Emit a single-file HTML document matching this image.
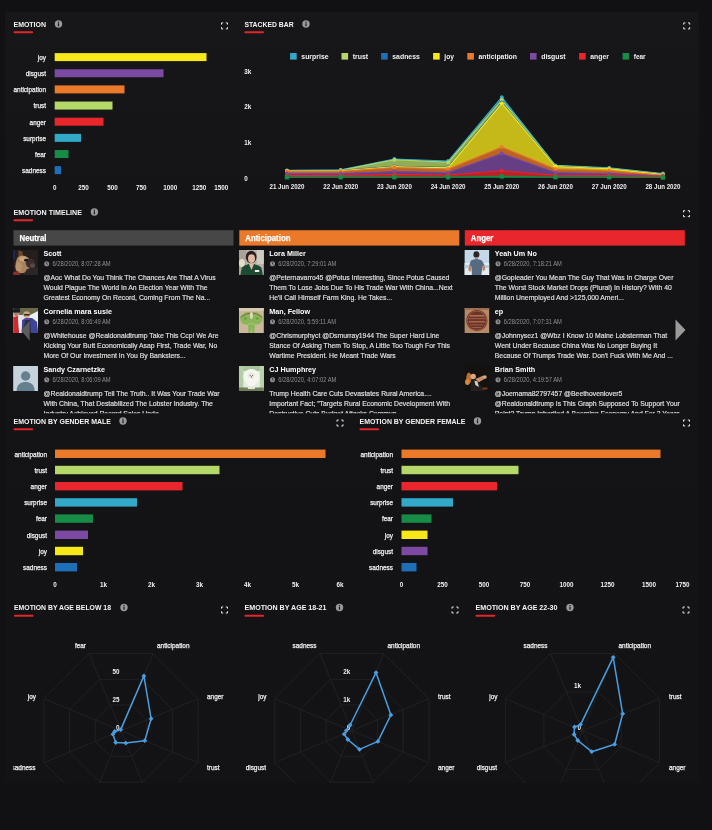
<!DOCTYPE html>
<html><head><meta charset="utf-8"><title>Emotion Dashboard</title>
<style>
html,body{margin:0;padding:0;background:#111113;}
body{width:712px;height:830px;overflow:hidden;font-family:"Liberation Sans",sans-serif;}
svg{display:block;filter:blur(0.3px);font-family:"Liberation Sans",sans-serif;}
</style></head><body>
<svg width="712" height="830" viewBox="0 0 712 830">
<rect x="0" y="0" width="712" height="830" fill="#111113"/>
<defs><linearGradient id="pg" x1="0" y1="0" x2="0" y2="1"><stop offset="0" stop-color="#171719"/><stop offset="0.25" stop-color="#141416"/><stop offset="1" stop-color="#131315"/></linearGradient></defs>
<rect x="5" y="12" width="694" height="771" fill="url(#pg)"/>

<text x="13.50" y="26.83" font-size="7.9" font-weight="bold" fill="#f4f4f4" textLength="32.50" lengthAdjust="spacingAndGlyphs">EMOTION</text>
<rect x="13.5" y="31.2" width="19.5" height="2" rx="0.8" fill="#e3262b"/>
<circle cx="58.5" cy="24" r="3.7" fill="#9a9a9a"/>
<rect x="57.9" y="23.3" width="1.2" height="2.9" fill="#141416"/>
<rect x="57.9" y="21.6" width="1.2" height="1.1" fill="#141416"/>
<path d="M221.50 24.60V22.90H223.20M227.50 24.60V22.90H225.80M227.50 27.20V28.90H225.80M221.50 27.20V28.90H223.20" fill="none" stroke="#f0f0f0" stroke-width="0.95"/>
<rect x="54.7" y="53.10" width="151.80" height="8" fill="#f7e81a"/>
<text x="37.79" y="59.91" font-size="7.3" fill="#f2f2f2" textLength="8.21" lengthAdjust="spacingAndGlyphs" stroke="#f2f2f2" stroke-width="0.25">joy</text>
<rect x="54.7" y="69.25" width="108.80" height="8" fill="#7d4aa3"/>
<text x="25.65" y="76.06" font-size="7.3" fill="#f2f2f2" textLength="20.35" lengthAdjust="spacingAndGlyphs" stroke="#f2f2f2" stroke-width="0.25">disgust</text>
<rect x="54.7" y="85.40" width="69.80" height="8" fill="#ea7a29"/>
<text x="13.50" y="92.21" font-size="7.3" fill="#f2f2f2" textLength="32.50" lengthAdjust="spacingAndGlyphs" stroke="#f2f2f2" stroke-width="0.25">anticipation</text>
<rect x="54.7" y="101.55" width="57.80" height="8" fill="#b5d968"/>
<text x="33.51" y="108.36" font-size="7.3" fill="#f2f2f2" textLength="12.49" lengthAdjust="spacingAndGlyphs" stroke="#f2f2f2" stroke-width="0.25">trust</text>
<rect x="54.7" y="117.70" width="48.80" height="8" fill="#e9262b"/>
<text x="29.57" y="124.51" font-size="7.3" fill="#f2f2f2" textLength="16.43" lengthAdjust="spacingAndGlyphs" stroke="#f2f2f2" stroke-width="0.25">anger</text>
<rect x="54.7" y="133.85" width="26.30" height="8" fill="#32a9c9"/>
<text x="23.15" y="140.66" font-size="7.3" fill="#f2f2f2" textLength="22.85" lengthAdjust="spacingAndGlyphs" stroke="#f2f2f2" stroke-width="0.25">surprise</text>
<rect x="54.7" y="150.00" width="13.80" height="8" fill="#178c46"/>
<text x="34.93" y="156.81" font-size="7.3" fill="#f2f2f2" textLength="11.07" lengthAdjust="spacingAndGlyphs" stroke="#f2f2f2" stroke-width="0.25">fear</text>
<rect x="54.7" y="166.15" width="6.30" height="8" fill="#1e6fba"/>
<text x="22.07" y="172.96" font-size="7.3" fill="#f2f2f2" textLength="23.93" lengthAdjust="spacingAndGlyphs" stroke="#f2f2f2" stroke-width="0.25">sadness</text>
<text x="52.95" y="189.61" font-size="7.0" font-weight="bold" fill="#f0f0f0" textLength="3.50" lengthAdjust="spacingAndGlyphs">0</text>
<text x="78.24" y="189.61" font-size="7.0" font-weight="bold" fill="#f0f0f0" textLength="10.51" lengthAdjust="spacingAndGlyphs">250</text>
<text x="107.14" y="189.61" font-size="7.0" font-weight="bold" fill="#f0f0f0" textLength="10.51" lengthAdjust="spacingAndGlyphs">500</text>
<text x="136.04" y="189.61" font-size="7.0" font-weight="bold" fill="#f0f0f0" textLength="10.51" lengthAdjust="spacingAndGlyphs">750</text>
<text x="163.19" y="189.61" font-size="7.0" font-weight="bold" fill="#f0f0f0" textLength="14.01" lengthAdjust="spacingAndGlyphs">1000</text>
<text x="192.19" y="189.61" font-size="7.0" font-weight="bold" fill="#f0f0f0" textLength="14.01" lengthAdjust="spacingAndGlyphs">1250</text>
<text x="214.19" y="189.61" font-size="7.0" font-weight="bold" fill="#f0f0f0" textLength="14.01" lengthAdjust="spacingAndGlyphs">1500</text>
<text x="244.40" y="26.83" font-size="7.9" font-weight="bold" fill="#f4f4f4" textLength="49.20" lengthAdjust="spacingAndGlyphs">STACKED BAR</text>
<rect x="244.4" y="31.2" width="19.5" height="2" rx="0.8" fill="#e3262b"/>
<circle cx="306" cy="24" r="3.7" fill="#9a9a9a"/>
<rect x="305.4" y="23.3" width="1.2" height="2.9" fill="#141416"/>
<rect x="305.4" y="21.6" width="1.2" height="1.1" fill="#141416"/>
<path d="M683.70 24.60V22.90H685.40M689.70 24.60V22.90H688.00M689.70 27.20V28.90H688.00M683.70 27.20V28.90H685.40" fill="none" stroke="#f0f0f0" stroke-width="0.95"/>
<rect x="290.1" y="53.0" width="6.6" height="6.6" fill="#32a9c9"/>
<text x="301.30" y="59.29" font-size="7.8" font-weight="bold" fill="#f2f2f2" textLength="27.30" lengthAdjust="spacingAndGlyphs">surprise</text>
<rect x="341.5" y="53.0" width="6.6" height="6.6" fill="#b5d968"/>
<text x="352.70" y="59.29" font-size="7.8" font-weight="bold" fill="#f2f2f2" textLength="15.40" lengthAdjust="spacingAndGlyphs">trust</text>
<rect x="381.1" y="53.0" width="6.6" height="6.6" fill="#1e6fba"/>
<text x="392.30" y="59.29" font-size="7.8" font-weight="bold" fill="#f2f2f2" textLength="27.50" lengthAdjust="spacingAndGlyphs">sadness</text>
<rect x="433.1" y="53.0" width="6.6" height="6.6" fill="#f7e81a"/>
<text x="444.30" y="59.29" font-size="7.8" font-weight="bold" fill="#f2f2f2" textLength="9.60" lengthAdjust="spacingAndGlyphs">joy</text>
<rect x="467.3" y="53.0" width="6.6" height="6.6" fill="#ea7a29"/>
<text x="478.50" y="59.29" font-size="7.8" font-weight="bold" fill="#f2f2f2" textLength="38.50" lengthAdjust="spacingAndGlyphs">anticipation</text>
<rect x="530" y="53.0" width="6.6" height="6.6" fill="#7d4aa3"/>
<text x="541.20" y="59.29" font-size="7.8" font-weight="bold" fill="#f2f2f2" textLength="24.40" lengthAdjust="spacingAndGlyphs">disgust</text>
<rect x="579.1" y="53.0" width="6.6" height="6.6" fill="#e9262b"/>
<text x="590.30" y="59.29" font-size="7.8" font-weight="bold" fill="#f2f2f2" textLength="18.60" lengthAdjust="spacingAndGlyphs">anger</text>
<rect x="622.6" y="53.0" width="6.6" height="6.6" fill="#178c46"/>
<text x="633.80" y="59.29" font-size="7.8" font-weight="bold" fill="#f2f2f2" textLength="11.80" lengthAdjust="spacingAndGlyphs">fear</text>
<text x="244.30" y="73.51" font-size="7.0" font-weight="bold" fill="#f0f0f0" textLength="7.01" lengthAdjust="spacingAndGlyphs">3k</text>
<text x="244.30" y="109.21" font-size="7.0" font-weight="bold" fill="#f0f0f0" textLength="7.01" lengthAdjust="spacingAndGlyphs">2k</text>
<text x="244.30" y="145.01" font-size="7.0" font-weight="bold" fill="#f0f0f0" textLength="7.01" lengthAdjust="spacingAndGlyphs">1k</text>
<text x="244.30" y="180.81" font-size="7.0" font-weight="bold" fill="#f0f0f0" textLength="3.50" lengthAdjust="spacingAndGlyphs">0</text>
<text x="269.54" y="189.31" font-size="7.0" font-weight="bold" fill="#f0f0f0" textLength="34.93" lengthAdjust="spacingAndGlyphs">21 Jun 2020</text>
<text x="323.24" y="189.31" font-size="7.0" font-weight="bold" fill="#f0f0f0" textLength="34.93" lengthAdjust="spacingAndGlyphs">22 Jun 2020</text>
<text x="376.94" y="189.31" font-size="7.0" font-weight="bold" fill="#f0f0f0" textLength="34.93" lengthAdjust="spacingAndGlyphs">23 Jun 2020</text>
<text x="430.64" y="189.31" font-size="7.0" font-weight="bold" fill="#f0f0f0" textLength="34.93" lengthAdjust="spacingAndGlyphs">24 Jun 2020</text>
<text x="484.34" y="189.31" font-size="7.0" font-weight="bold" fill="#f0f0f0" textLength="34.93" lengthAdjust="spacingAndGlyphs">25 Jun 2020</text>
<text x="538.04" y="189.31" font-size="7.0" font-weight="bold" fill="#f0f0f0" textLength="34.93" lengthAdjust="spacingAndGlyphs">26 Jun 2020</text>
<text x="591.74" y="189.31" font-size="7.0" font-weight="bold" fill="#f0f0f0" textLength="34.93" lengthAdjust="spacingAndGlyphs">27 Jun 2020</text>
<text x="645.44" y="189.31" font-size="7.0" font-weight="bold" fill="#f0f0f0" textLength="34.93" lengthAdjust="spacingAndGlyphs">28 Jun 2020</text>
<path d="M287.0 170.3L340.7 169.8L394.4 159.0L448.1 161.0L501.8 97.2L555.5 165.3L609.2 167.8L662.9 173.5L662.9 174.0L609.2 168.2L555.5 165.8L501.8 100.0L448.1 162.3L394.4 159.8L340.7 170.2L287.0 170.6Z" fill="#32a9c9" fill-opacity="0.78"/>
<path d="M287.0 170.3L340.7 169.8L394.4 159.0L448.1 161.0L501.8 97.2L555.5 165.3L609.2 167.8L662.9 173.5" fill="none" stroke="#32a9c9" stroke-width="1.1" stroke-linejoin="round"/>
<circle cx="287.0" cy="170.3" r="1.9" fill="#32a9c9"/>
<circle cx="340.7" cy="169.8" r="1.9" fill="#32a9c9"/>
<circle cx="394.4" cy="159.0" r="1.9" fill="#32a9c9"/>
<circle cx="448.1" cy="161.0" r="1.9" fill="#32a9c9"/>
<circle cx="501.8" cy="97.2" r="1.9" fill="#32a9c9"/>
<circle cx="555.5" cy="165.3" r="1.9" fill="#32a9c9"/>
<circle cx="609.2" cy="167.8" r="1.9" fill="#32a9c9"/>
<circle cx="662.9" cy="173.5" r="1.9" fill="#32a9c9"/>
<path d="M287.0 170.6L340.7 170.2L394.4 159.8L448.1 162.3L501.8 100.0L555.5 165.8L609.2 168.2L662.9 174.0L662.9 174.4L609.2 168.5L555.5 166.2L501.8 102.3L448.1 167.3L394.4 166.3L340.7 170.6L287.0 170.8Z" fill="#b5d968" fill-opacity="0.78"/>
<path d="M287.0 170.6L340.7 170.2L394.4 159.8L448.1 162.3L501.8 100.0L555.5 165.8L609.2 168.2L662.9 174.0" fill="none" stroke="#b5d968" stroke-width="1.1" stroke-linejoin="round"/>
<circle cx="287.0" cy="170.6" r="1.9" fill="#b5d968"/>
<circle cx="340.7" cy="170.2" r="1.9" fill="#b5d968"/>
<circle cx="394.4" cy="159.8" r="1.9" fill="#b5d968"/>
<circle cx="448.1" cy="162.3" r="1.9" fill="#b5d968"/>
<circle cx="501.8" cy="100.0" r="1.9" fill="#b5d968"/>
<circle cx="555.5" cy="165.8" r="1.9" fill="#b5d968"/>
<circle cx="609.2" cy="168.2" r="1.9" fill="#b5d968"/>
<circle cx="662.9" cy="174.0" r="1.9" fill="#b5d968"/>
<path d="M287.0 170.8L340.7 170.6L394.4 166.3L448.1 167.3L501.8 102.3L555.5 166.2L609.2 168.5L662.9 174.4L662.9 174.6L609.2 168.8L555.5 166.5L501.8 103.3L448.1 167.8L394.4 166.8L340.7 170.8L287.0 171.0Z" fill="#1e6fba" fill-opacity="0.78"/>
<path d="M287.0 170.8L340.7 170.6L394.4 166.3L448.1 167.3L501.8 102.3L555.5 166.2L609.2 168.5L662.9 174.4" fill="none" stroke="#1e6fba" stroke-width="1.1" stroke-linejoin="round"/>
<circle cx="287.0" cy="170.8" r="1.9" fill="#1e6fba"/>
<circle cx="340.7" cy="170.6" r="1.9" fill="#1e6fba"/>
<circle cx="394.4" cy="166.3" r="1.9" fill="#1e6fba"/>
<circle cx="448.1" cy="167.3" r="1.9" fill="#1e6fba"/>
<circle cx="501.8" cy="102.3" r="1.9" fill="#1e6fba"/>
<circle cx="555.5" cy="166.2" r="1.9" fill="#1e6fba"/>
<circle cx="609.2" cy="168.5" r="1.9" fill="#1e6fba"/>
<circle cx="662.9" cy="174.4" r="1.9" fill="#1e6fba"/>
<path d="M287.0 171.0L340.7 170.8L394.4 166.8L448.1 167.8L501.8 103.3L555.5 166.5L609.2 168.8L662.9 174.6L662.9 175.2L609.2 170.5L555.5 169.0L501.8 147.0L448.1 169.0L394.4 167.5L340.7 171.3L287.0 171.5Z" fill="#f7e81a" fill-opacity="0.78"/>
<path d="M287.0 171.0L340.7 170.8L394.4 166.8L448.1 167.8L501.8 103.3L555.5 166.5L609.2 168.8L662.9 174.6" fill="none" stroke="#f7e81a" stroke-width="1.1" stroke-linejoin="round"/>
<circle cx="287.0" cy="171.0" r="1.9" fill="#f7e81a"/>
<circle cx="340.7" cy="170.8" r="1.9" fill="#f7e81a"/>
<circle cx="394.4" cy="166.8" r="1.9" fill="#f7e81a"/>
<circle cx="448.1" cy="167.8" r="1.9" fill="#f7e81a"/>
<circle cx="501.8" cy="103.3" r="1.9" fill="#f7e81a"/>
<circle cx="555.5" cy="166.5" r="1.9" fill="#f7e81a"/>
<circle cx="609.2" cy="168.8" r="1.9" fill="#f7e81a"/>
<circle cx="662.9" cy="174.6" r="1.9" fill="#f7e81a"/>
<path d="M287.0 171.5L340.7 171.3L394.4 167.5L448.1 169.0L501.8 147.0L555.5 169.0L609.2 170.5L662.9 175.2L662.9 176.0L609.2 173.5L555.5 172.5L501.8 153.5L448.1 172.5L394.4 171.5L340.7 173.5L287.0 173.5Z" fill="#ea7a29" fill-opacity="0.78"/>
<path d="M287.0 171.5L340.7 171.3L394.4 167.5L448.1 169.0L501.8 147.0L555.5 169.0L609.2 170.5L662.9 175.2" fill="none" stroke="#ea7a29" stroke-width="1.1" stroke-linejoin="round"/>
<circle cx="287.0" cy="171.5" r="1.9" fill="#ea7a29"/>
<circle cx="340.7" cy="171.3" r="1.9" fill="#ea7a29"/>
<circle cx="394.4" cy="167.5" r="1.9" fill="#ea7a29"/>
<circle cx="448.1" cy="169.0" r="1.9" fill="#ea7a29"/>
<circle cx="501.8" cy="147.0" r="1.9" fill="#ea7a29"/>
<circle cx="555.5" cy="169.0" r="1.9" fill="#ea7a29"/>
<circle cx="609.2" cy="170.5" r="1.9" fill="#ea7a29"/>
<circle cx="662.9" cy="175.2" r="1.9" fill="#ea7a29"/>
<path d="M287.0 173.5L340.7 173.5L394.4 171.5L448.1 172.5L501.8 153.5L555.5 172.5L609.2 173.5L662.9 176.0L662.9 176.6L609.2 175.5L555.5 175.3L501.8 170.8L448.1 175.0L394.4 174.5L340.7 175.5L287.0 175.5Z" fill="#7d4aa3" fill-opacity="0.78"/>
<path d="M287.0 173.5L340.7 173.5L394.4 171.5L448.1 172.5L501.8 153.5L555.5 172.5L609.2 173.5L662.9 176.0" fill="none" stroke="#7d4aa3" stroke-width="1.1" stroke-linejoin="round"/>
<circle cx="287.0" cy="173.5" r="1.9" fill="#7d4aa3"/>
<circle cx="340.7" cy="173.5" r="1.9" fill="#7d4aa3"/>
<circle cx="394.4" cy="171.5" r="1.9" fill="#7d4aa3"/>
<circle cx="448.1" cy="172.5" r="1.9" fill="#7d4aa3"/>
<circle cx="501.8" cy="153.5" r="1.9" fill="#7d4aa3"/>
<circle cx="555.5" cy="172.5" r="1.9" fill="#7d4aa3"/>
<circle cx="609.2" cy="173.5" r="1.9" fill="#7d4aa3"/>
<circle cx="662.9" cy="176.0" r="1.9" fill="#7d4aa3"/>
<path d="M287.0 175.5L340.7 175.5L394.4 174.5L448.1 175.0L501.8 170.8L555.5 175.3L609.2 175.5L662.9 176.6L662.9 177.3L609.2 177.0L555.5 177.0L501.8 176.2L448.1 177.0L394.4 177.0L340.7 177.0L287.0 177.0Z" fill="#e9262b" fill-opacity="0.78"/>
<path d="M287.0 175.5L340.7 175.5L394.4 174.5L448.1 175.0L501.8 170.8L555.5 175.3L609.2 175.5L662.9 176.6" fill="none" stroke="#e9262b" stroke-width="1.1" stroke-linejoin="round"/>
<circle cx="287.0" cy="175.5" r="1.9" fill="#e9262b"/>
<circle cx="340.7" cy="175.5" r="1.9" fill="#e9262b"/>
<circle cx="394.4" cy="174.5" r="1.9" fill="#e9262b"/>
<circle cx="448.1" cy="175.0" r="1.9" fill="#e9262b"/>
<circle cx="501.8" cy="170.8" r="1.9" fill="#e9262b"/>
<circle cx="555.5" cy="175.3" r="1.9" fill="#e9262b"/>
<circle cx="609.2" cy="175.5" r="1.9" fill="#e9262b"/>
<circle cx="662.9" cy="176.6" r="1.9" fill="#e9262b"/>
<path d="M287.0 177.0L340.7 177.0L394.4 177.0L448.1 177.0L501.8 176.2L555.5 177.0L609.2 177.0L662.9 177.3L662.9 178.0L609.2 178.0L555.5 178.0L501.8 178.0L448.1 178.0L394.4 178.0L340.7 178.0L287.0 178.0Z" fill="#178c46" fill-opacity="0.78"/>
<path d="M287.0 177.0L340.7 177.0L394.4 177.0L448.1 177.0L501.8 176.2L555.5 177.0L609.2 177.0L662.9 177.3" fill="none" stroke="#178c46" stroke-width="1.1" stroke-linejoin="round"/>
<rect x="284.8" y="175.0" width="4.4" height="4.4" fill="#178c46"/>
<rect x="338.5" y="175.0" width="4.4" height="4.4" fill="#178c46"/>
<rect x="392.2" y="175.0" width="4.4" height="4.4" fill="#178c46"/>
<rect x="445.9" y="175.0" width="4.4" height="4.4" fill="#178c46"/>
<rect x="499.6" y="174.2" width="4.4" height="4.4" fill="#178c46"/>
<rect x="553.3" y="175.0" width="4.4" height="4.4" fill="#178c46"/>
<rect x="607.0" y="175.0" width="4.4" height="4.4" fill="#178c46"/>
<rect x="660.7" y="175.3" width="4.4" height="4.4" fill="#178c46"/>
<text x="13.50" y="214.83" font-size="7.9" font-weight="bold" fill="#f4f4f4" textLength="68.40" lengthAdjust="spacingAndGlyphs">EMOTION TIMELINE</text>
<rect x="13.5" y="219.2" width="19.5" height="2" rx="0.8" fill="#e3262b"/>
<circle cx="94.4" cy="212" r="3.7" fill="#9a9a9a"/>
<rect x="93.80000000000001" y="211.3" width="1.2" height="2.9" fill="#141416"/>
<rect x="93.80000000000001" y="209.6" width="1.2" height="1.1" fill="#141416"/>
<path d="M683.50 212.40V210.70H685.20M689.50 212.40V210.70H687.80M689.50 215.00V216.70H687.80M683.50 215.00V216.70H685.20" fill="none" stroke="#f0f0f0" stroke-width="0.95"/>
<clipPath id="tlclip"><rect x="5" y="225" width="694" height="188.3"/></clipPath>
<g clip-path="url(#tlclip)">
<rect x="13.5" y="230.2" width="220" height="15.4" fill="#474747"/>
<text x="19.50" y="241.01" font-size="8.4" font-weight="bold" fill="#fff" textLength="26.91" lengthAdjust="spacingAndGlyphs" stroke="#fff" stroke-width="0.25">Neutral</text>
<g transform="translate(13.1,250.0)"><clipPath id="avc00"><rect width="25" height="25"/></clipPath><g clip-path="url(#avc00)"><rect width="25" height="25" fill="#241e1d"/>
<rect x="0" y="0" width="1.8" height="9" fill="#1d2a55"/>
<path d="M5.5 0.5L9.5 1.5L10 8L5 9Z" fill="#6b4632"/>
<path d="M4 8Q8 4 13 6.5Q17 8 17.5 12L16 20Q12 24 6 23Q2 20 2.5 13Z" fill="#a8835e"/>
<ellipse cx="10" cy="8.8" rx="4" ry="2.6" fill="#c9a67e"/>
<ellipse cx="5.5" cy="17" rx="3.2" ry="5" fill="#b8946e"/>
<ellipse cx="17.3" cy="13.2" rx="4.6" ry="4.6" fill="#3a2d2b"/>
<ellipse cx="19.5" cy="15.6" rx="2.6" ry="2.4" fill="#54484a"/>
<ellipse cx="13" cy="10.2" rx="2" ry="1.4" fill="#1b1514"/>
<path d="M0 22L5 21L7 25L0 25Z" fill="#8a2f2c"/>
<path d="M14 19L25 17L25 25L10 25Z" fill="#2c2626"/></g></g>
<text x="43.50" y="255.56" font-size="8.0" font-weight="bold" fill="#fff" textLength="18.00" lengthAdjust="spacingAndGlyphs">Scott</text>
<circle cx="46.7" cy="263.7" r="2.55" fill="#8a8a8a"/>
<path d="M46.7 262.2V263.8L47.7 264.6" stroke="#141416" stroke-width="0.7" fill="none"/>
<text x="52.40" y="266.23" font-size="6.5" fill="#909090" textLength="58.21" lengthAdjust="spacingAndGlyphs">6/28/2020, 8:07:28 AM</text>
<text x="43.50" y="280.32" font-size="7.6" fill="#e4e4e4" textLength="172.21" lengthAdjust="spacingAndGlyphs" stroke="#e4e4e4" stroke-width="0.15">@Aoc What Do You Think The Chances Are That A Virus</text>
<text x="43.50" y="290.32" font-size="7.6" fill="#e4e4e4" textLength="164.12" lengthAdjust="spacingAndGlyphs" stroke="#e4e4e4" stroke-width="0.15">Would Plague The World In An Election Year With The</text>
<text x="43.50" y="300.32" font-size="7.6" fill="#e4e4e4" textLength="166.74" lengthAdjust="spacingAndGlyphs" stroke="#e4e4e4" stroke-width="0.15">Greatest Economy On Record, Coming From The Na...</text>
<g transform="translate(13.1,308.0)"><clipPath id="avc01"><rect width="25" height="25"/></clipPath><g clip-path="url(#avc01)"><rect width="25" height="25" fill="#dfe3e6"/>
<rect x="6" y="0" width="19" height="7" fill="#6a6a48"/>
<path d="M17 7L25 3L25 25L20 25Z" fill="#eef1f3"/>
<rect x="0" y="0" width="7" height="4" fill="#22252b"/>
<circle cx="3.2" cy="5.5" r="2.6" fill="#b5806a"/>
<rect x="0" y="2" width="6.5" height="2.6" fill="#181a20"/>
<path d="M0 9L5 8L6 25L0 25Z" fill="#cf2a2f"/>
<path d="M5 9L9 12L9 25L6 25Z" fill="#e8ecee"/>
<circle cx="13.5" cy="6.6" r="3.3" fill="#c9a682"/>
<rect x="11" y="6" width="5.5" height="1.5" fill="#2a2622"/>
<path d="M9 12L13 10L19 10L24 14L25 25L8.5 25Z" fill="#3d4596"/>
<path d="M11 10.5L17 10.5L15.5 14L12.5 14Z" fill="#6a3f9a"/>
<path d="M12 12L17 12L18 25L10 25Z" fill="#2a2d4a"/></g></g>
<text x="43.50" y="313.56" font-size="8.0" font-weight="bold" fill="#fff" textLength="68.43" lengthAdjust="spacingAndGlyphs">Cornelia mara susie</text>
<circle cx="46.7" cy="321.7" r="2.55" fill="#8a8a8a"/>
<path d="M46.7 320.2V321.8L47.7 322.6" stroke="#141416" stroke-width="0.7" fill="none"/>
<text x="52.40" y="324.23" font-size="6.5" fill="#909090" textLength="58.21" lengthAdjust="spacingAndGlyphs">6/28/2020, 8:06:49 AM</text>
<text x="43.50" y="338.32" font-size="7.6" fill="#e4e4e4" textLength="175.08" lengthAdjust="spacingAndGlyphs" stroke="#e4e4e4" stroke-width="0.15">@Whitehouse @Realdonaldtrump Take This Ccp! We Are</text>
<text x="43.50" y="348.32" font-size="7.6" fill="#e4e4e4" textLength="173.86" lengthAdjust="spacingAndGlyphs" stroke="#e4e4e4" stroke-width="0.15">Kicking Your Butt Economically Asap First, Trade War, No</text>
<text x="43.50" y="358.32" font-size="7.6" fill="#e4e4e4" textLength="142.18" lengthAdjust="spacingAndGlyphs" stroke="#e4e4e4" stroke-width="0.15">More Of Our Investment In You By Banksters...</text>
<g transform="translate(13.1,366.0)"><clipPath id="avc02"><rect width="25" height="25"/></clipPath><g clip-path="url(#avc02)"><rect width="25" height="25" fill="#c6d3dd"/>
<circle cx="12.5" cy="10" r="4.7" fill="#65808f"/>
<path d="M3.5 25C3.5 18 8 16 12.5 16C17 16 21.5 18 21.5 25Z" fill="#65808f"/></g></g>
<text x="43.50" y="371.56" font-size="8.0" font-weight="bold" fill="#fff" textLength="61.62" lengthAdjust="spacingAndGlyphs">Sandy Czarnetzke</text>
<circle cx="46.7" cy="379.7" r="2.55" fill="#8a8a8a"/>
<path d="M46.7 378.2V379.8L47.7 380.6" stroke="#141416" stroke-width="0.7" fill="none"/>
<text x="52.40" y="382.23" font-size="6.5" fill="#909090" textLength="58.21" lengthAdjust="spacingAndGlyphs">6/28/2020, 8:06:09 AM</text>
<text x="43.50" y="396.32" font-size="7.6" fill="#e4e4e4" textLength="176.12" lengthAdjust="spacingAndGlyphs" stroke="#e4e4e4" stroke-width="0.15">@Realdonaldtrump Tell The Truth.. It Was Your Trade War</text>
<text x="43.50" y="406.32" font-size="7.6" fill="#e4e4e4" textLength="169.43" lengthAdjust="spacingAndGlyphs" stroke="#e4e4e4" stroke-width="0.15">With China, That Destabilized The Lobster Industry. The</text>
<text x="43.50" y="416.32" font-size="7.6" fill="#e4e4e4" textLength="120.90" lengthAdjust="spacingAndGlyphs" stroke="#e4e4e4" stroke-width="0.15">Industry Achieved Record Sales Unde...</text>
<rect x="239.3" y="230.2" width="220" height="15.4" fill="#ea7a29"/>
<text x="245.30" y="241.01" font-size="8.4" font-weight="bold" fill="#fff" textLength="45.13" lengthAdjust="spacingAndGlyphs" stroke="#fff" stroke-width="0.25">Anticipation</text>
<g transform="translate(238.9,250.0)"><clipPath id="avc10"><rect width="25" height="25"/></clipPath><g clip-path="url(#avc10)"><rect width="25" height="25" fill="#b9b3a9"/>
<rect x="0" y="0" width="7" height="25" fill="#a9a296"/>
<rect x="18" y="0" width="7" height="14" fill="#cfcac2"/>
<ellipse cx="3" cy="13" rx="3" ry="4" fill="#e5dcc8"/>
<ellipse cx="12.3" cy="7" rx="5.4" ry="6.3" fill="#2a1f1d"/>
<ellipse cx="12.6" cy="8.6" rx="3.5" ry="4.4" fill="#e2b9a2"/>
<path d="M1.5 25L3 17.5Q6 14.5 10 14L15 14Q20 15 22.5 17.5L24 25Z" fill="#1e4a34"/>
<path d="M9.8 13.5L15.2 13.5L12.6 20Z" fill="#e2b9a2"/>
<rect x="16" y="20" width="4.3" height="2" fill="#f1f1f1"/></g></g>
<text x="269.30" y="255.56" font-size="8.0" font-weight="bold" fill="#fff" textLength="36.41" lengthAdjust="spacingAndGlyphs">Lora Miller</text>
<circle cx="272.5" cy="263.7" r="2.55" fill="#8a8a8a"/>
<path d="M272.5 262.2V263.8L273.5 264.6" stroke="#141416" stroke-width="0.7" fill="none"/>
<text x="278.20" y="266.23" font-size="6.5" fill="#909090" textLength="58.21" lengthAdjust="spacingAndGlyphs">6/28/2020, 7:29:01 AM</text>
<text x="269.30" y="280.32" font-size="7.6" fill="#e4e4e4" textLength="180.03" lengthAdjust="spacingAndGlyphs" stroke="#e4e4e4" stroke-width="0.15">@Peternavarro45 @Potus Interesting, Since Potus Caused</text>
<text x="269.30" y="290.32" font-size="7.6" fill="#e4e4e4" textLength="183.48" lengthAdjust="spacingAndGlyphs" stroke="#e4e4e4" stroke-width="0.15">Them To Lose Jobs Due To His Trade War With China...Next</text>
<text x="269.30" y="300.32" font-size="7.6" fill="#e4e4e4" textLength="122.81" lengthAdjust="spacingAndGlyphs" stroke="#e4e4e4" stroke-width="0.15">He&#x27;ll Call Himself Farm King. He Takes...</text>
<g transform="translate(238.9,308.0)"><clipPath id="avc11"><rect width="25" height="25"/></clipPath><g clip-path="url(#avc11)"><rect width="25" height="25" fill="#c9b799"/>
<rect x="0" y="0" width="25" height="3" fill="#d8cab0"/>
<path d="M1 9.5Q6 2.5 12.5 4.5Q19 2.5 24 9.5Q23 17.5 16 16.5Q15.5 21 15.5 25L13.3 25L12.5 19L11.7 25L9.5 25Q9.5 21 9 16.5Q2 17.5 1 9.5Z" fill="#8ab558"/>
<path d="M2 9Q12.5 1 23 9" fill="none" stroke="#8a5a4a" stroke-width="0.9"/>
<ellipse cx="12.5" cy="7.5" rx="1.4" ry="3.4" fill="#e6dcc0"/>
<circle cx="6.5" cy="10.5" r="1" fill="#5e8a3a"/><circle cx="18.5" cy="10.5" r="1" fill="#5e8a3a"/>
<path d="M9 16.5Q12.5 14 16 16.5" fill="none" stroke="#a8c878" stroke-width="1"/></g></g>
<text x="269.30" y="313.56" font-size="8.0" font-weight="bold" fill="#fff" textLength="40.80" lengthAdjust="spacingAndGlyphs">Man, Fellow</text>
<circle cx="272.5" cy="321.7" r="2.55" fill="#8a8a8a"/>
<path d="M272.5 320.2V321.8L273.5 322.6" stroke="#141416" stroke-width="0.7" fill="none"/>
<text x="278.20" y="324.23" font-size="6.5" fill="#909090" textLength="57.78" lengthAdjust="spacingAndGlyphs">6/28/2020, 5:59:11 AM</text>
<text x="269.30" y="338.32" font-size="7.6" fill="#e4e4e4" textLength="170.00" lengthAdjust="spacingAndGlyphs" stroke="#e4e4e4" stroke-width="0.15">@Chrismurphyct @Dsmurray1944 The Super Hard Line</text>
<text x="269.30" y="348.32" font-size="7.6" fill="#e4e4e4" textLength="180.72" lengthAdjust="spacingAndGlyphs" stroke="#e4e4e4" stroke-width="0.15">Stance Of Asking Them To Stop, A Little Too Tough For This</text>
<text x="269.30" y="358.32" font-size="7.6" fill="#e4e4e4" textLength="126.45" lengthAdjust="spacingAndGlyphs" stroke="#e4e4e4" stroke-width="0.15">Wartime President. He Meant Trade Wars</text>
<g transform="translate(238.9,366.0)"><clipPath id="avc12"><rect width="25" height="25"/></clipPath><g clip-path="url(#avc12)"><rect width="25" height="25" fill="#e4ecdf"/>
<rect x="0" y="0" width="25" height="5" fill="#a9c59a"/>
<rect x="0" y="0" width="4.5" height="25" fill="#b5cda6"/>
<rect x="21" y="0" width="4" height="25" fill="#bcd2ae"/>
<circle cx="12.5" cy="11" r="8" fill="#f3f6ee"/>
<ellipse cx="12.5" cy="15" rx="4.3" ry="7" fill="#f7f5ef"/>
<circle cx="12.5" cy="9.5" r="3.4" fill="#efeadf"/>
<circle cx="11.3" cy="9.3" r="0.5" fill="#333"/><circle cx="13.7" cy="9.3" r="0.5" fill="#333"/><circle cx="12.5" cy="10.8" r="0.6" fill="#333"/>
<rect x="0" y="21.5" width="25" height="3.5" fill="#6f7f5c"/>
<rect x="9" y="20" width="7" height="3" fill="#e9e6dc"/></g></g>
<text x="269.30" y="371.56" font-size="8.0" font-weight="bold" fill="#fff" textLength="46.81" lengthAdjust="spacingAndGlyphs">CJ Humphrey</text>
<circle cx="272.5" cy="379.7" r="2.55" fill="#8a8a8a"/>
<path d="M272.5 378.2V379.8L273.5 380.6" stroke="#141416" stroke-width="0.7" fill="none"/>
<text x="278.20" y="382.23" font-size="6.5" fill="#909090" textLength="58.21" lengthAdjust="spacingAndGlyphs">6/28/2020, 4:07:02 AM</text>
<text x="269.30" y="396.32" font-size="7.6" fill="#e4e4e4" textLength="162.44" lengthAdjust="spacingAndGlyphs" stroke="#e4e4e4" stroke-width="0.15">Trump Health Care Cuts Devastates Rural America....</text>
<text x="269.30" y="406.32" font-size="7.6" fill="#e4e4e4" textLength="180.71" lengthAdjust="spacingAndGlyphs" stroke="#e4e4e4" stroke-width="0.15">Important Fact; &quot;Targets Rural Economic Development With</text>
<text x="269.30" y="416.32" font-size="7.6" fill="#e4e4e4" textLength="133.05" lengthAdjust="spacingAndGlyphs" stroke="#e4e4e4" stroke-width="0.15">Destructive Cuts Budget Attacks Commun...</text>
<rect x="464.8" y="230.2" width="220" height="15.4" fill="#e9262b"/>
<text x="470.80" y="241.01" font-size="8.4" font-weight="bold" fill="#fff" textLength="22.57" lengthAdjust="spacingAndGlyphs" stroke="#fff" stroke-width="0.25">Anger</text>
<g transform="translate(464.4,250.0)"><clipPath id="avc20"><rect width="25" height="25"/></clipPath><g clip-path="url(#avc20)"><rect width="25" height="25" fill="#c3d9ea"/>
<rect x="0" y="13" width="25" height="12" fill="#e4ebf0"/>
<rect x="0" y="15" width="25" height="3" fill="#b9c9d6"/>
<ellipse cx="12" cy="4.6" rx="3" ry="3.4" fill="#2b2624"/>
<rect x="10.8" y="7" width="2.6" height="2.5" fill="#b98468"/>
<path d="M6.5 10.5Q12 7.5 17.5 10.5L20 15L18 16.5L17 25L7.5 25L7 16.5L5 15Z" fill="#566a84"/>
<path d="M5 15L3.8 20L6 22L7.2 17Z" fill="#b98468"/>
<path d="M20 15L21 19.5L18.5 21.5L17.8 16.8Z" fill="#b98468"/></g></g>
<text x="494.80" y="255.56" font-size="8.0" font-weight="bold" fill="#fff" textLength="42.01" lengthAdjust="spacingAndGlyphs">Yeah Um No</text>
<circle cx="498.0" cy="263.7" r="2.55" fill="#8a8a8a"/>
<path d="M498.0 262.2V263.8L499.0 264.6" stroke="#141416" stroke-width="0.7" fill="none"/>
<text x="503.70" y="266.23" font-size="6.5" fill="#909090" textLength="58.21" lengthAdjust="spacingAndGlyphs">6/28/2020, 7:18:21 AM</text>
<text x="494.80" y="280.32" font-size="7.6" fill="#e4e4e4" textLength="178.66" lengthAdjust="spacingAndGlyphs" stroke="#e4e4e4" stroke-width="0.15">@Gopleader You Mean The Guy That Was In Charge Over</text>
<text x="494.80" y="290.32" font-size="7.6" fill="#e4e4e4" textLength="176.99" lengthAdjust="spacingAndGlyphs" stroke="#e4e4e4" stroke-width="0.15">The Worst Stock Market Drops (Plural) In History? With 40</text>
<text x="494.80" y="300.32" font-size="7.6" fill="#e4e4e4" textLength="129.08" lengthAdjust="spacingAndGlyphs" stroke="#e4e4e4" stroke-width="0.15">Million Unemployed And &gt;125,000 Ameri...</text>
<g transform="translate(464.4,308.0)"><clipPath id="avc21"><rect width="25" height="25"/></clipPath><g clip-path="url(#avc21)"><rect width="25" height="25" fill="#b48a68"/>
<rect x="0" y="0" width="25" height="2" fill="#9a7050"/>
<circle cx="12.5" cy="12.6" r="10.6" fill="#6c3529"/>
<circle cx="12.5" cy="12.6" r="9.6" fill="none" stroke="#a7684a" stroke-width="0.7"/>
<rect x="5" y="7" width="15" height="1.6" fill="#b0704c"/>
<rect x="4" y="10" width="17" height="1.2" fill="#96583e"/>
<rect x="4.5" y="13" width="16" height="1.5" fill="#a86846"/>
<rect x="6" y="16.3" width="13" height="1.2" fill="#925640"/>
<rect x="8" y="19" width="9" height="1" fill="#9e5e44"/></g></g>
<text x="494.80" y="313.56" font-size="8.0" font-weight="bold" fill="#fff" textLength="8.40" lengthAdjust="spacingAndGlyphs">ep</text>
<circle cx="498.0" cy="321.7" r="2.55" fill="#8a8a8a"/>
<path d="M498.0 320.2V321.8L499.0 322.6" stroke="#141416" stroke-width="0.7" fill="none"/>
<text x="503.70" y="324.23" font-size="6.5" fill="#909090" textLength="58.21" lengthAdjust="spacingAndGlyphs">6/28/2020, 7:07:31 AM</text>
<text x="494.80" y="338.32" font-size="7.6" fill="#e4e4e4" textLength="172.30" lengthAdjust="spacingAndGlyphs" stroke="#e4e4e4" stroke-width="0.15">@Johnnysez1 @Wbz I Know 10 Maine Lobsterman That</text>
<text x="494.80" y="348.32" font-size="7.6" fill="#e4e4e4" textLength="162.34" lengthAdjust="spacingAndGlyphs" stroke="#e4e4e4" stroke-width="0.15">Went Under Because China Was No Longer Buying It</text>
<text x="494.80" y="358.32" font-size="7.6" fill="#e4e4e4" textLength="178.19" lengthAdjust="spacingAndGlyphs" stroke="#e4e4e4" stroke-width="0.15">Because Of Trumps Trade War. Don&#x27;t Fuck With Me And ...</text>
<g transform="translate(464.4,366.0)"><clipPath id="avc22"><rect width="25" height="25"/></clipPath><g clip-path="url(#avc22)"><rect width="25" height="25" fill="#141211"/>
<ellipse cx="4.5" cy="12" rx="2.6" ry="5.5" fill="#b8702c"/>
<ellipse cx="3" cy="16" rx="2.4" ry="3" fill="#d08a3a"/>
<circle cx="8.8" cy="10.5" r="2.7" fill="#dba786"/>
<path d="M11 13L19 9.5L21.5 12L14 16.5Z" fill="#c98e66"/>
<circle cx="20.5" cy="11" r="1.8" fill="#dba786"/>
<path d="M7 14L14 16L20 25L6 25Z" fill="#23201f"/>
<path d="M10 14.5L13 15.5L14.5 21L11 19Z" fill="#d8d2cc"/>
<rect x="18" y="21.5" width="5" height="2" fill="#7a3a20"/></g></g>
<text x="494.80" y="371.56" font-size="8.0" font-weight="bold" fill="#fff" textLength="40.40" lengthAdjust="spacingAndGlyphs">Brian Smith</text>
<circle cx="498.0" cy="379.7" r="2.55" fill="#8a8a8a"/>
<path d="M498.0 378.2V379.8L499.0 380.6" stroke="#141416" stroke-width="0.7" fill="none"/>
<text x="503.70" y="382.23" font-size="6.5" fill="#909090" textLength="58.21" lengthAdjust="spacingAndGlyphs">6/28/2020, 4:19:57 AM</text>
<text x="494.80" y="396.32" font-size="7.6" fill="#e4e4e4" textLength="127.58" lengthAdjust="spacingAndGlyphs" stroke="#e4e4e4" stroke-width="0.15">@Joemama82797457 @Beethovenlover5</text>
<text x="494.80" y="406.32" font-size="7.6" fill="#e4e4e4" textLength="185.01" lengthAdjust="spacingAndGlyphs" stroke="#e4e4e4" stroke-width="0.15">@Realdonaldtrump Is This Graph Supposed To Support Your</text>
<text x="494.80" y="416.32" font-size="7.6" fill="#e4e4e4" textLength="184.78" lengthAdjust="spacingAndGlyphs" stroke="#e4e4e4" stroke-width="0.15">Point? Trump Inherited A Booming Economy And For 3 Years</text>
</g>
<path d="M29.6 320.7L21.3 330.5L29.6 340.7Z" fill="#5c5c5c"/>
<path d="M675.5 319.5L685.5 330L675.5 340.5Z" fill="#9a9a9a"/>
<text x="13.50" y="423.93" font-size="7.9" font-weight="bold" fill="#f4f4f4" textLength="97.50" lengthAdjust="spacingAndGlyphs">EMOTION BY GENDER MALE</text>
<rect x="13.5" y="428.3" width="19.5" height="2" rx="0.8" fill="#e3262b"/>
<circle cx="123" cy="421" r="3.7" fill="#9a9a9a"/>
<rect x="122.4" y="420.3" width="1.2" height="2.9" fill="#141416"/>
<rect x="122.4" y="418.6" width="1.2" height="1.1" fill="#141416"/>
<path d="M337.00 421.70V420.00H338.70M343.00 421.70V420.00H341.30M343.00 424.30V426.00H341.30M337.00 424.30V426.00H338.70" fill="none" stroke="#f0f0f0" stroke-width="0.95"/>
<rect x="55" y="449.60" width="270.50" height="8.4" fill="#ea7a29"/>
<text x="14.50" y="456.61" font-size="7.3" fill="#f2f2f2" textLength="32.50" lengthAdjust="spacingAndGlyphs" stroke="#f2f2f2" stroke-width="0.25">anticipation</text>
<rect x="55" y="465.80" width="164.50" height="8.4" fill="#b5d968"/>
<text x="34.51" y="472.81" font-size="7.3" fill="#f2f2f2" textLength="12.49" lengthAdjust="spacingAndGlyphs" stroke="#f2f2f2" stroke-width="0.25">trust</text>
<rect x="55" y="482.00" width="127.50" height="8.4" fill="#e9262b"/>
<text x="30.57" y="489.01" font-size="7.3" fill="#f2f2f2" textLength="16.43" lengthAdjust="spacingAndGlyphs" stroke="#f2f2f2" stroke-width="0.25">anger</text>
<rect x="55" y="498.20" width="82.00" height="8.4" fill="#32a9c9"/>
<text x="24.15" y="505.21" font-size="7.3" fill="#f2f2f2" textLength="22.85" lengthAdjust="spacingAndGlyphs" stroke="#f2f2f2" stroke-width="0.25">surprise</text>
<rect x="55" y="514.40" width="38.00" height="8.4" fill="#178c46"/>
<text x="35.93" y="521.41" font-size="7.3" fill="#f2f2f2" textLength="11.07" lengthAdjust="spacingAndGlyphs" stroke="#f2f2f2" stroke-width="0.25">fear</text>
<rect x="55" y="530.60" width="33.00" height="8.4" fill="#7d4aa3"/>
<text x="26.65" y="537.61" font-size="7.3" fill="#f2f2f2" textLength="20.35" lengthAdjust="spacingAndGlyphs" stroke="#f2f2f2" stroke-width="0.25">disgust</text>
<rect x="55" y="546.80" width="28.00" height="8.4" fill="#f7e81a"/>
<text x="38.79" y="553.81" font-size="7.3" fill="#f2f2f2" textLength="8.21" lengthAdjust="spacingAndGlyphs" stroke="#f2f2f2" stroke-width="0.25">joy</text>
<rect x="55" y="563.00" width="22.00" height="8.4" fill="#1e6fba"/>
<text x="23.07" y="570.01" font-size="7.3" fill="#f2f2f2" textLength="23.93" lengthAdjust="spacingAndGlyphs" stroke="#f2f2f2" stroke-width="0.25">sadness</text>
<text x="53.25" y="586.51" font-size="7.0" font-weight="bold" fill="#f0f0f0" textLength="3.50" lengthAdjust="spacingAndGlyphs">0</text>
<text x="100.00" y="586.51" font-size="7.0" font-weight="bold" fill="#f0f0f0" textLength="7.01" lengthAdjust="spacingAndGlyphs">1k</text>
<text x="148.00" y="586.51" font-size="7.0" font-weight="bold" fill="#f0f0f0" textLength="7.01" lengthAdjust="spacingAndGlyphs">2k</text>
<text x="196.00" y="586.51" font-size="7.0" font-weight="bold" fill="#f0f0f0" textLength="7.01" lengthAdjust="spacingAndGlyphs">3k</text>
<text x="244.00" y="586.51" font-size="7.0" font-weight="bold" fill="#f0f0f0" textLength="7.01" lengthAdjust="spacingAndGlyphs">4k</text>
<text x="292.00" y="586.51" font-size="7.0" font-weight="bold" fill="#f0f0f0" textLength="7.01" lengthAdjust="spacingAndGlyphs">5k</text>
<text x="336.50" y="586.51" font-size="7.0" font-weight="bold" fill="#f0f0f0" textLength="7.01" lengthAdjust="spacingAndGlyphs">6k</text>
<text x="359.50" y="423.93" font-size="7.9" font-weight="bold" fill="#f4f4f4" textLength="106.00" lengthAdjust="spacingAndGlyphs">EMOTION BY GENDER FEMALE</text>
<rect x="359.5" y="428.3" width="19.5" height="2" rx="0.8" fill="#e3262b"/>
<circle cx="477.5" cy="421" r="3.7" fill="#9a9a9a"/>
<rect x="476.9" y="420.3" width="1.2" height="2.9" fill="#141416"/>
<rect x="476.9" y="418.6" width="1.2" height="1.1" fill="#141416"/>
<path d="M683.50 421.70V420.00H685.20M689.50 421.70V420.00H687.80M689.50 424.30V426.00H687.80M683.50 424.30V426.00H685.20" fill="none" stroke="#f0f0f0" stroke-width="0.95"/>
<rect x="401.5" y="449.60" width="259.00" height="8.4" fill="#ea7a29"/>
<text x="360.50" y="456.61" font-size="7.3" fill="#f2f2f2" textLength="32.50" lengthAdjust="spacingAndGlyphs" stroke="#f2f2f2" stroke-width="0.25">anticipation</text>
<rect x="401.5" y="465.80" width="117.00" height="8.4" fill="#b5d968"/>
<text x="380.51" y="472.81" font-size="7.3" fill="#f2f2f2" textLength="12.49" lengthAdjust="spacingAndGlyphs" stroke="#f2f2f2" stroke-width="0.25">trust</text>
<rect x="401.5" y="482.00" width="95.50" height="8.4" fill="#e9262b"/>
<text x="376.57" y="489.01" font-size="7.3" fill="#f2f2f2" textLength="16.43" lengthAdjust="spacingAndGlyphs" stroke="#f2f2f2" stroke-width="0.25">anger</text>
<rect x="401.5" y="498.20" width="51.50" height="8.4" fill="#32a9c9"/>
<text x="370.15" y="505.21" font-size="7.3" fill="#f2f2f2" textLength="22.85" lengthAdjust="spacingAndGlyphs" stroke="#f2f2f2" stroke-width="0.25">surprise</text>
<rect x="401.5" y="514.40" width="30.00" height="8.4" fill="#178c46"/>
<text x="381.93" y="521.41" font-size="7.3" fill="#f2f2f2" textLength="11.07" lengthAdjust="spacingAndGlyphs" stroke="#f2f2f2" stroke-width="0.25">fear</text>
<rect x="401.5" y="530.60" width="26.00" height="8.4" fill="#f7e81a"/>
<text x="384.79" y="537.61" font-size="7.3" fill="#f2f2f2" textLength="8.21" lengthAdjust="spacingAndGlyphs" stroke="#f2f2f2" stroke-width="0.25">joy</text>
<rect x="401.5" y="546.80" width="26.00" height="8.4" fill="#7d4aa3"/>
<text x="372.65" y="553.81" font-size="7.3" fill="#f2f2f2" textLength="20.35" lengthAdjust="spacingAndGlyphs" stroke="#f2f2f2" stroke-width="0.25">disgust</text>
<rect x="401.5" y="563.00" width="15.00" height="8.4" fill="#1e6fba"/>
<text x="369.07" y="570.01" font-size="7.3" fill="#f2f2f2" textLength="23.93" lengthAdjust="spacingAndGlyphs" stroke="#f2f2f2" stroke-width="0.25">sadness</text>
<text x="399.75" y="586.51" font-size="7.0" font-weight="bold" fill="#f0f0f0" textLength="3.50" lengthAdjust="spacingAndGlyphs">0</text>
<text x="437.24" y="586.51" font-size="7.0" font-weight="bold" fill="#f0f0f0" textLength="10.51" lengthAdjust="spacingAndGlyphs">250</text>
<text x="478.74" y="586.51" font-size="7.0" font-weight="bold" fill="#f0f0f0" textLength="10.51" lengthAdjust="spacingAndGlyphs">500</text>
<text x="519.74" y="586.51" font-size="7.0" font-weight="bold" fill="#f0f0f0" textLength="10.51" lengthAdjust="spacingAndGlyphs">750</text>
<text x="559.49" y="586.51" font-size="7.0" font-weight="bold" fill="#f0f0f0" textLength="14.01" lengthAdjust="spacingAndGlyphs">1000</text>
<text x="600.49" y="586.51" font-size="7.0" font-weight="bold" fill="#f0f0f0" textLength="14.01" lengthAdjust="spacingAndGlyphs">1250</text>
<text x="641.99" y="586.51" font-size="7.0" font-weight="bold" fill="#f0f0f0" textLength="14.01" lengthAdjust="spacingAndGlyphs">1500</text>
<text x="675.49" y="586.51" font-size="7.0" font-weight="bold" fill="#f0f0f0" textLength="14.01" lengthAdjust="spacingAndGlyphs">1750</text>
<clipPath id="rclip"><rect x="13.3" y="600" width="680" height="183"/></clipPath>
<g clip-path="url(#rclip)">
<text x="14.00" y="610.33" font-size="7.9" font-weight="bold" fill="#f4f4f4" textLength="97.00" lengthAdjust="spacingAndGlyphs">EMOTION BY AGE BELOW 18</text>
<rect x="14" y="614.7" width="19.5" height="2" rx="0.8" fill="#e3262b"/>
<circle cx="124" cy="607.5" r="3.7" fill="#9a9a9a"/>
<rect x="123.4" y="606.8" width="1.2" height="2.9" fill="#141416"/>
<rect x="123.4" y="605.1" width="1.2" height="1.1" fill="#141416"/>
<path d="M221.50 608.70V607.00H223.20M227.50 608.70V607.00H225.80M227.50 611.30V613.00H225.80M221.50 611.30V613.00H223.20" fill="none" stroke="#f0f0f0" stroke-width="0.95"/>
<polygon points="131.7,705.0 146.7,720.0 146.7,741.4 131.7,756.4 110.3,756.4 95.3,741.4 95.3,720.0 110.3,705.0" fill="none" stroke="#242427" stroke-width="0.8"/>
<polygon points="142.3,679.3 172.4,709.4 172.4,752.0 142.3,782.1 99.7,782.1 69.6,752.0 69.6,709.4 99.7,679.3" fill="none" stroke="#242427" stroke-width="0.8"/>
<polygon points="153.0,653.6 198.1,698.7 198.1,762.7 153.0,807.8 89.0,807.8 43.9,762.7 43.9,698.7 89.0,653.6" fill="none" stroke="#242427" stroke-width="0.8"/>
<line x1="121" y1="730.7" x2="153.0" y2="653.6" stroke="#242427" stroke-width="0.8"/>
<line x1="121" y1="730.7" x2="198.1" y2="698.7" stroke="#242427" stroke-width="0.8"/>
<line x1="121" y1="730.7" x2="198.1" y2="762.7" stroke="#242427" stroke-width="0.8"/>
<line x1="121" y1="730.7" x2="153.0" y2="807.8" stroke="#242427" stroke-width="0.8"/>
<line x1="121" y1="730.7" x2="89.0" y2="807.8" stroke="#242427" stroke-width="0.8"/>
<line x1="121" y1="730.7" x2="43.9" y2="762.7" stroke="#242427" stroke-width="0.8"/>
<line x1="121" y1="730.7" x2="43.9" y2="698.7" stroke="#242427" stroke-width="0.8"/>
<line x1="121" y1="730.7" x2="89.0" y2="653.6" stroke="#242427" stroke-width="0.8"/>
<text x="112.39" y="674.21" font-size="7.0" font-weight="bold" fill="#f0f0f0" textLength="7.01" lengthAdjust="spacingAndGlyphs">50</text>
<text x="112.39" y="702.11" font-size="7.0" font-weight="bold" fill="#f0f0f0" textLength="7.01" lengthAdjust="spacingAndGlyphs">25</text>
<text x="115.90" y="730.01" font-size="7.0" font-weight="bold" fill="#f0f0f0" textLength="3.50" lengthAdjust="spacingAndGlyphs">0</text>
<text x="74.93" y="648.11" font-size="7.3" fill="#f2f2f2" textLength="11.07" lengthAdjust="spacingAndGlyphs" stroke="#f2f2f2" stroke-width="0.25">fear</text>
<text x="157.00" y="648.11" font-size="7.3" fill="#f2f2f2" textLength="32.50" lengthAdjust="spacingAndGlyphs" stroke="#f2f2f2" stroke-width="0.25">anticipation</text>
<text x="207.00" y="698.61" font-size="7.3" fill="#f2f2f2" textLength="16.43" lengthAdjust="spacingAndGlyphs" stroke="#f2f2f2" stroke-width="0.25">anger</text>
<text x="207.00" y="769.61" font-size="7.3" fill="#f2f2f2" textLength="12.49" lengthAdjust="spacingAndGlyphs" stroke="#f2f2f2" stroke-width="0.25">trust</text>
<text x="27.79" y="698.61" font-size="7.3" fill="#f2f2f2" textLength="8.21" lengthAdjust="spacingAndGlyphs" stroke="#f2f2f2" stroke-width="0.25">joy</text>
<text x="11.57" y="769.61" font-size="7.3" fill="#f2f2f2" textLength="23.93" lengthAdjust="spacingAndGlyphs" stroke="#f2f2f2" stroke-width="0.25">sadness</text>
<path d="M143.9 675.9L151.1 718.7L144.8 740.7L125.8 743.1L115.7 742.5L112.9 734.2L114.7 731.5L120.7 729.6Z" fill="none" stroke="#4a9ee2" stroke-width="1.5" stroke-linejoin="round"/>
<path d="M143.9 673.5L146.3 675.9L143.9 678.3L141.5 675.9Z" fill="#4a9ee2"/>
<path d="M151.1 716.3L153.5 718.7L151.1 721.1L148.7 718.7Z" fill="#4a9ee2"/>
<path d="M144.8 738.3L147.2 740.7L144.8 743.1L142.4 740.7Z" fill="#4a9ee2"/>
<path d="M125.8 740.7L128.2 743.1L125.8 745.5L123.4 743.1Z" fill="#4a9ee2"/>
<path d="M115.7 740.1L118.1 742.5L115.7 744.9L113.3 742.5Z" fill="#4a9ee2"/>
<path d="M112.9 731.8L115.3 734.2L112.9 736.6L110.5 734.2Z" fill="#4a9ee2"/>
<path d="M114.7 729.1L117.1 731.5L114.7 733.9L112.3 731.5Z" fill="#4a9ee2"/>
<path d="M120.7 727.2L123.1 729.6L120.7 732.0L118.3 729.6Z" fill="#4a9ee2"/>
<text x="244.50" y="610.33" font-size="7.9" font-weight="bold" fill="#f4f4f4" textLength="82.00" lengthAdjust="spacingAndGlyphs">EMOTION BY AGE 18-21</text>
<rect x="244.5" y="614.7" width="19.5" height="2" rx="0.8" fill="#e3262b"/>
<circle cx="339.5" cy="607.5" r="3.7" fill="#9a9a9a"/>
<rect x="338.9" y="606.8" width="1.2" height="2.9" fill="#141416"/>
<rect x="338.9" y="605.1" width="1.2" height="1.1" fill="#141416"/>
<path d="M452.00 608.70V607.00H453.70M458.00 608.70V607.00H456.30M458.00 611.30V613.00H456.30M452.00 611.30V613.00H453.70" fill="none" stroke="#f0f0f0" stroke-width="0.95"/>
<polygon points="362.5,705.0 377.5,720.0 377.5,741.4 362.5,756.4 341.1,756.4 326.1,741.4 326.1,720.0 341.1,705.0" fill="none" stroke="#242427" stroke-width="0.8"/>
<polygon points="373.1,679.3 403.2,709.4 403.2,752.0 373.1,782.1 330.5,782.1 300.4,752.0 300.4,709.4 330.5,679.3" fill="none" stroke="#242427" stroke-width="0.8"/>
<polygon points="383.8,653.6 428.9,698.7 428.9,762.7 383.8,807.8 319.8,807.8 274.7,762.7 274.7,698.7 319.8,653.6" fill="none" stroke="#242427" stroke-width="0.8"/>
<line x1="351.8" y1="730.7" x2="383.8" y2="653.6" stroke="#242427" stroke-width="0.8"/>
<line x1="351.8" y1="730.7" x2="428.9" y2="698.7" stroke="#242427" stroke-width="0.8"/>
<line x1="351.8" y1="730.7" x2="428.9" y2="762.7" stroke="#242427" stroke-width="0.8"/>
<line x1="351.8" y1="730.7" x2="383.8" y2="807.8" stroke="#242427" stroke-width="0.8"/>
<line x1="351.8" y1="730.7" x2="319.8" y2="807.8" stroke="#242427" stroke-width="0.8"/>
<line x1="351.8" y1="730.7" x2="274.7" y2="762.7" stroke="#242427" stroke-width="0.8"/>
<line x1="351.8" y1="730.7" x2="274.7" y2="698.7" stroke="#242427" stroke-width="0.8"/>
<line x1="351.8" y1="730.7" x2="319.8" y2="653.6" stroke="#242427" stroke-width="0.8"/>
<text x="343.19" y="674.31" font-size="7.0" font-weight="bold" fill="#f0f0f0" textLength="7.01" lengthAdjust="spacingAndGlyphs">2k</text>
<text x="343.19" y="702.31" font-size="7.0" font-weight="bold" fill="#f0f0f0" textLength="7.01" lengthAdjust="spacingAndGlyphs">1k</text>
<text x="346.70" y="730.01" font-size="7.0" font-weight="bold" fill="#f0f0f0" textLength="3.50" lengthAdjust="spacingAndGlyphs">0</text>
<text x="292.57" y="648.11" font-size="7.3" fill="#f2f2f2" textLength="23.93" lengthAdjust="spacingAndGlyphs" stroke="#f2f2f2" stroke-width="0.25">sadness</text>
<text x="387.50" y="648.11" font-size="7.3" fill="#f2f2f2" textLength="32.50" lengthAdjust="spacingAndGlyphs" stroke="#f2f2f2" stroke-width="0.25">anticipation</text>
<text x="438.00" y="698.61" font-size="7.3" fill="#f2f2f2" textLength="12.49" lengthAdjust="spacingAndGlyphs" stroke="#f2f2f2" stroke-width="0.25">trust</text>
<text x="438.00" y="769.61" font-size="7.3" fill="#f2f2f2" textLength="16.43" lengthAdjust="spacingAndGlyphs" stroke="#f2f2f2" stroke-width="0.25">anger</text>
<text x="258.29" y="698.61" font-size="7.3" fill="#f2f2f2" textLength="8.21" lengthAdjust="spacingAndGlyphs" stroke="#f2f2f2" stroke-width="0.25">joy</text>
<text x="245.65" y="769.61" font-size="7.3" fill="#f2f2f2" textLength="20.35" lengthAdjust="spacingAndGlyphs" stroke="#f2f2f2" stroke-width="0.25">disgust</text>
<path d="M376.0 672.6L390.9 714.9L377.9 741.4L359.5 749.4L347.8 739.5L344.2 734.1L346.3 730.6L350.2 725.0Z" fill="none" stroke="#4a9ee2" stroke-width="1.5" stroke-linejoin="round"/>
<path d="M376.0 670.2L378.4 672.6L376.0 675.0L373.6 672.6Z" fill="#4a9ee2"/>
<path d="M390.9 712.5L393.3 714.9L390.9 717.3L388.5 714.9Z" fill="#4a9ee2"/>
<path d="M377.9 739.0L380.3 741.4L377.9 743.8L375.5 741.4Z" fill="#4a9ee2"/>
<path d="M359.5 747.0L361.9 749.4L359.5 751.8L357.1 749.4Z" fill="#4a9ee2"/>
<path d="M347.8 737.1L350.2 739.5L347.8 741.9L345.4 739.5Z" fill="#4a9ee2"/>
<path d="M344.2 731.7L346.6 734.1L344.2 736.5L341.8 734.1Z" fill="#4a9ee2"/>
<path d="M346.3 728.2L348.7 730.6L346.3 733.0L343.9 730.6Z" fill="#4a9ee2"/>
<path d="M350.2 722.6L352.6 725.0L350.2 727.4L347.8 725.0Z" fill="#4a9ee2"/>
<text x="475.50" y="610.33" font-size="7.9" font-weight="bold" fill="#f4f4f4" textLength="82.00" lengthAdjust="spacingAndGlyphs">EMOTION BY AGE 22-30</text>
<rect x="475.5" y="614.7" width="19.5" height="2" rx="0.8" fill="#e3262b"/>
<circle cx="570" cy="607.5" r="3.7" fill="#9a9a9a"/>
<rect x="569.4" y="606.8" width="1.2" height="2.9" fill="#141416"/>
<rect x="569.4" y="605.1" width="1.2" height="1.1" fill="#141416"/>
<path d="M683.00 608.70V607.00H684.70M689.00 608.70V607.00H687.30M689.00 611.30V613.00H687.30M683.00 611.30V613.00H684.70" fill="none" stroke="#f0f0f0" stroke-width="0.95"/>
<polygon points="598.5,692.1 621.1,714.7 621.1,746.7 598.5,769.3 566.5,769.3 543.9,746.7 543.9,714.7 566.5,692.1" fill="none" stroke="#242427" stroke-width="0.8"/>
<polygon points="614.5,653.6 659.6,698.7 659.6,762.7 614.5,807.8 550.5,807.8 505.4,762.7 505.4,698.7 550.5,653.6" fill="none" stroke="#242427" stroke-width="0.8"/>
<line x1="582.5" y1="730.7" x2="614.5" y2="653.6" stroke="#242427" stroke-width="0.8"/>
<line x1="582.5" y1="730.7" x2="659.6" y2="698.7" stroke="#242427" stroke-width="0.8"/>
<line x1="582.5" y1="730.7" x2="659.6" y2="762.7" stroke="#242427" stroke-width="0.8"/>
<line x1="582.5" y1="730.7" x2="614.5" y2="807.8" stroke="#242427" stroke-width="0.8"/>
<line x1="582.5" y1="730.7" x2="550.5" y2="807.8" stroke="#242427" stroke-width="0.8"/>
<line x1="582.5" y1="730.7" x2="505.4" y2="762.7" stroke="#242427" stroke-width="0.8"/>
<line x1="582.5" y1="730.7" x2="505.4" y2="698.7" stroke="#242427" stroke-width="0.8"/>
<line x1="582.5" y1="730.7" x2="550.5" y2="653.6" stroke="#242427" stroke-width="0.8"/>
<text x="573.89" y="688.01" font-size="7.0" font-weight="bold" fill="#f0f0f0" textLength="7.01" lengthAdjust="spacingAndGlyphs">1k</text>
<text x="577.40" y="730.01" font-size="7.0" font-weight="bold" fill="#f0f0f0" textLength="3.50" lengthAdjust="spacingAndGlyphs">0</text>
<text x="523.57" y="648.11" font-size="7.3" fill="#f2f2f2" textLength="23.93" lengthAdjust="spacingAndGlyphs" stroke="#f2f2f2" stroke-width="0.25">sadness</text>
<text x="618.50" y="648.11" font-size="7.3" fill="#f2f2f2" textLength="32.50" lengthAdjust="spacingAndGlyphs" stroke="#f2f2f2" stroke-width="0.25">anticipation</text>
<text x="669.00" y="698.61" font-size="7.3" fill="#f2f2f2" textLength="12.49" lengthAdjust="spacingAndGlyphs" stroke="#f2f2f2" stroke-width="0.25">trust</text>
<text x="669.00" y="769.61" font-size="7.3" fill="#f2f2f2" textLength="16.43" lengthAdjust="spacingAndGlyphs" stroke="#f2f2f2" stroke-width="0.25">anger</text>
<text x="489.29" y="698.61" font-size="7.3" fill="#f2f2f2" textLength="8.21" lengthAdjust="spacingAndGlyphs" stroke="#f2f2f2" stroke-width="0.25">joy</text>
<text x="476.65" y="769.61" font-size="7.3" fill="#f2f2f2" textLength="20.35" lengthAdjust="spacingAndGlyphs" stroke="#f2f2f2" stroke-width="0.25">disgust</text>
<path d="M613.2 657.3L622.7 713.8L614.7 744.3L591.7 751.7L577.8 740.5L574.1 734.5L574.5 727.0L580.6 724.6Z" fill="none" stroke="#4a9ee2" stroke-width="1.5" stroke-linejoin="round"/>
<path d="M613.2 654.9L615.6 657.3L613.2 659.7L610.8 657.3Z" fill="#4a9ee2"/>
<path d="M622.7 711.4L625.1 713.8L622.7 716.2L620.3 713.8Z" fill="#4a9ee2"/>
<path d="M614.7 741.9L617.1 744.3L614.7 746.7L612.3 744.3Z" fill="#4a9ee2"/>
<path d="M591.7 749.3L594.1 751.7L591.7 754.1L589.3 751.7Z" fill="#4a9ee2"/>
<path d="M577.8 738.1L580.2 740.5L577.8 742.9L575.4 740.5Z" fill="#4a9ee2"/>
<path d="M574.1 732.1L576.5 734.5L574.1 736.9L571.7 734.5Z" fill="#4a9ee2"/>
<path d="M574.5 724.6L576.9 727.0L574.5 729.4L572.1 727.0Z" fill="#4a9ee2"/>
<path d="M580.6 722.2L583.0 724.6L580.6 727.0L578.2 724.6Z" fill="#4a9ee2"/>
</g>
</svg></body></html>
